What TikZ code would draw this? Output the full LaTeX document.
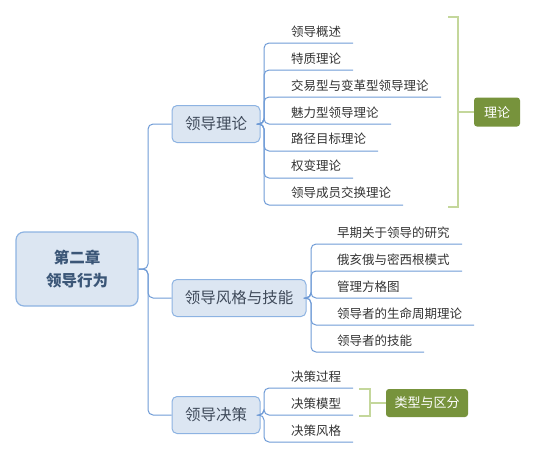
\documentclass[tikz,border=0pt]{standalone}
\usepackage{fontspec}
\setmainfont{Noto Sans CJK SC}
\definecolor{linkblue}{HTML}{6F9BD6}
\definecolor{boxborder}{HTML}{8DB3E2}
\definecolor{boxfill}{HTML}{DCE6F2}
\definecolor{roottext}{HTML}{3B5677}
\definecolor{branchtext}{HTML}{3F4A5A}
\definecolor{itemtext}{HTML}{333333}
\definecolor{brkgreen}{HTML}{C4D79B}
\definecolor{olive}{HTML}{77933C}
\begin{document}
\begin{tikzpicture}[x=1pt,y=-1pt,
  conn/.style={draw=linkblue, line width=1pt, rounded corners=5pt},
  rootbox/.style={draw=boxborder, fill=boxfill, rounded corners=8pt, line width=1.2pt,
    minimum width=122pt, minimum height=74pt, text=roottext, align=center,
    font=\fontsize{15.5}{23}\selectfont\bfseries},
  branchbox/.style={draw=boxborder, fill=boxfill, rounded corners=5pt, line width=1pt,
    minimum height=37pt, text=branchtext, inner sep=0pt,
    font=\fontsize{15.5}{18}\selectfont},
  item/.style={anchor=west, inner sep=0pt, text=itemtext, font=\fontsize{12.5}{15}\selectfont},
  greenbox/.style={fill=olive, rounded corners=3pt, text=white, inner sep=0pt,
    font=\fontsize{13}{15}\selectfont},
  brk/.style={draw=brkgreen, line width=2.5pt}
]
\useasboundingbox (0,0) rectangle (535,459);

% root and branches
\node[rootbox] (root) at (77,269) {第二章\\领导行为};
\node[branchbox, minimum width=88pt] (b1) at (216,124) {领导理论};
\node[branchbox, minimum width=134pt] (b2) at (239,298) {领导风格与技能};
\node[branchbox, minimum width=88pt] (b3) at (216,415) {领导决策};

\coordinate (trunk) at (148,269);
\draw[conn] (root.east) -- (trunk) |- (b1.west);
\draw[conn] (root.east) -- (trunk) |- (b2.west);
\draw[conn] (root.east) -- (trunk) |- (b3.west);

% branch 1 items
\node[item] (a1) at (291,32) {领导概述};
\node[item] (a2) at (291,59) {特质理论};
\node[item] (a3) at (291,86) {交易型与变革型领导理论};
\node[item] (a4) at (291,113) {魅力型领导理论};
\node[item] (a5) at (291,139) {路径目标理论};
\node[item] (a6) at (291,166) {权变理论};
\node[item] (a7) at (291,193) {领导成员交换理论};
\coordinate (ae1) at (353,43);
\coordinate (ae2) at (353,70);
\coordinate (ae3) at (441,97);
\coordinate (ae4) at (391,124);
\coordinate (ae5) at (378,151);
\coordinate (ae6) at (353,178);
\coordinate (ae7) at (403,205);
\coordinate (s1) at (264,124);
\foreach \i in {1,...,7} {\draw[conn] (b1.east) -- (s1) |- (ae\i);}

% branch 2 items
\node[item] (c1) at (337,233) {早期关于领导的研究};
\node[item] (c2) at (337,260) {俄亥俄与密西根模式};
\node[item] (c3) at (337,287) {管理方格图};
\node[item] (c4) at (337,314) {领导者的生命周期理论};
\node[item] (c5) at (337,341) {领导者的技能};
\coordinate (ce1) at (462,244);
\coordinate (ce2) at (462,271);
\coordinate (ce3) at (412,298);
\coordinate (ce4) at (474,325);
\coordinate (ce5) at (424,352);
\coordinate (s2) at (311,298);
\foreach \i in {1,...,5} {\draw[conn] (b2.east) -- (s2) |- (ce\i);}

% branch 3 items
\node[item] (d1) at (291,377) {决策过程};
\node[item] (d2) at (291,404) {决策模型};
\node[item] (d3) at (291,431) {决策风格};
\coordinate (de1) at (353,388);
\coordinate (de2) at (353,415);
\coordinate (de3) at (353,442);
\coordinate (s3) at (264,415);
\foreach \i in {1,...,3} {\draw[conn] (b3.east) -- (s3) |- (de\i);}

% summaries
\node[greenbox, minimum width=46pt, minimum height=29pt] (g1) at (497,112) {理论};
\draw[brk] (448,17) -- (458,17) -- (458,207) -- (448,207);
\coordinate (k1) at (458,112);
\draw[brk] (k1) -- (g1.west);

\node[greenbox, minimum width=82pt, minimum height=28pt] (g2) at (427,403) {类型与区分};
\draw[brk] (359,389) -- (370,389) -- (370,416) -- (359,416);
\coordinate (k2) at (370,403);
\draw[brk] (k2) -- (g2.west);
\end{tikzpicture}
\end{document}
